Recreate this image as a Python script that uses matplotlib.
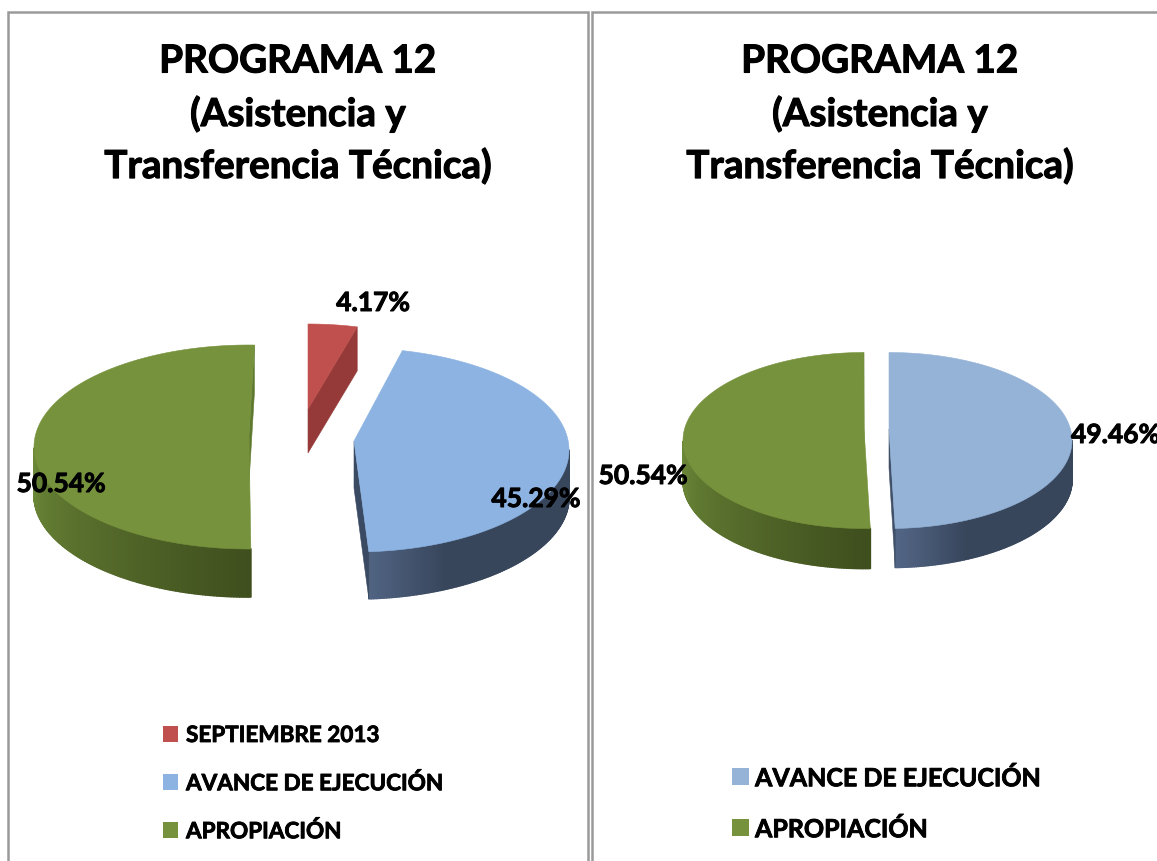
import numpy as np
import matplotlib
matplotlib.use("Agg")
import matplotlib.pyplot as plt
import matplotlib.patheffects as pe
from matplotlib.colors import to_rgb
from matplotlib.patches import Polygon, Rectangle
from matplotlib.collections import PolyCollection

W, H = 1157, 862
plt.rcParams['font.family'] = ['Lato', 'DejaVu Sans']

title_lines = ["PROGRAMA 12", "(Asistencia y", "Transferencia Técnica)"]
left_labels = ["SEPTIEMBRE 2013", "AVANCE DE EJECUCIÓN", "APROPIACIÓN"]
left_values = [4.17, 45.29, 50.54]
right_labels = ["AVANCE DE EJECUCIÓN", "APROPIACIÓN"]
right_values = [49.46, 50.54]

fig = plt.figure(figsize=(W / 100, H / 100), dpi=100)
ax = fig.add_axes([0, 0, 1, 1])
ax.set_xlim(0, W)
ax.set_ylim(H, 0)
ax.axis('off')


def lerp(a, b, t):
    a, b = np.array(to_rgb(a)), np.array(to_rgb(b))
    return a + (b - a) * t


def wedge3d(value, start, cx, cy, rx, ry, tip, depth, top, face, lit, dark, z=2):
    """value in percent; start in degrees clockwise from 12 o'clock."""
    span = value * 3.6
    ang = np.radians(np.linspace(start, start + span, 240))
    xs = cx + rx * np.sin(ang)
    ys = cy - ry * np.cos(ang)
    # curved front side, shaded along the arc
    front = np.cos(ang) < 0
    idx = np.where(front[:-1] & front[1:])[0]
    left_half = start > 90
    if len(idx):
        polys = [[(xs[i], ys[i]), (xs[i + 1], ys[i + 1]),
                  (xs[i + 1], ys[i + 1] + depth), (xs[i], ys[i] + depth)] for i in idx]
        cols = []
        for i in idx:
            deg = np.degrees(ang[i]) % 360
            if left_half:       # dark at the centre, lit at the far left
                cols.append(lerp(dark, lit, np.clip((deg - 180) / 90, 0, 1)))
            else:               # lit near the bottom centre, dark quickly
                cols.append(lerp(lit, dark, np.clip((180 - deg) / 25, 0, 1)))
        ax.add_collection(PolyCollection(polys, facecolors=cols, edgecolors=cols,
                                         linewidths=1.2, zorder=z))
    # flat cut face at the end of the wedge
    x_e, y_e = xs[-1], ys[-1]
    ax.add_patch(Polygon([tip, (x_e, y_e), (x_e, y_e + depth), (tip[0], tip[1] + depth)],
                         closed=True, fc=face, ec=face, lw=0.4, zorder=z))
    # top surface
    ax.add_patch(Polygon([tip] + list(zip(xs, ys)), closed=True, fc=top, ec=top, lw=0.4,
                         zorder=z + 1))


RED, RED_D = '#C0504D', '#953A38'
GREEN = '#76923C'
GREEN_LIT, GREEN_DARK = '#6C8838', '#3F4F1E'
BLUE_L, BLUE_R = '#8DB3E2', '#95B3D7'
BLUE_LIT, BLUE_DARK = '#55698A', '#38465C'

# left pie
wedge3d(left_values[2], 179.5, 249, 448, 215, 102, (249, 436), 48,
        GREEN, '#5F7A30', GREEN_LIT, GREEN_DARK)
wedge3d(left_values[1], 13, 354, 451, 215, 102, (354, 442), 47,
        BLUE_L, '#3A4A62', BLUE_LIT, BLUE_DARK)
wedge3d(left_values[0], 0, 308, 410, 190, 85, (308, 410), 44,
        RED, RED_D, RED_D, RED_D)

# right pie
wedge3d(right_values[1], 178, 864, 441.5, 181, 88, (864, 430), 40,
        GREEN, '#5F7A30', GREEN_LIT, GREEN_DARK)
wedge3d(right_values[0], 0, 889, 441.5, 183, 88, (889, 430), 39,
        BLUE_R, '#3F5068', BLUE_LIT, BLUE_DARK)

# frames
GRAY = '#9A9A9A'
for seg in ([(8, 862), (8, 13), (587.5, 13), (587.5, 862)],
            [(591.5, 862), (591.5, 13), (1157, 13)]):
    xx, yy = zip(*seg)
    ax.plot(xx, yy, color=GRAY, lw=1.8, solid_joinstyle='miter', zorder=1)


# bold text is thickened slightly to match the heavier face of the reference
def heavy(w):
    return [pe.withStroke(linewidth=w, foreground='black')]


# titles
for xc in (298, 880):
    for line, y in zip(title_lines, (62, 115, 167)):
        ax.text(xc, y, line, ha='center', va='center', fontsize=27.8, fontweight='bold',
                color='black', zorder=6, path_effects=heavy(0.8))

# data labels
LBL = dict(fontsize=19, fontweight='bold', color='black', va='center', zorder=6,
           path_effects=heavy(0.7))
ax.text(373, 304, f"{left_values[0]:.2f}%", ha='center', **LBL)
ax.text(536, 500, f"{left_values[1]:.2f}%", ha='center', **LBL)
ax.text(61, 485, f"{left_values[2]:.2f}%", ha='center', **LBL)
ax.text(1071, 436, f"{right_values[0]:.2f}%", ha='left', **LBL)
ax.text(643, 477, f"{right_values[1]:.2f}%", ha='center', **LBL)

# legends
for lab, col, y in zip(left_labels, (RED, BLUE_L, GREEN), (735, 783, 831)):
    ax.add_patch(Rectangle((163, y - 8), 15, 16, fc=col, ec='none', zorder=5))
    ax.text(186, y + 1.5, lab, ha='left', va='center', fontsize=16.2, fontweight='bold',
            color='black', zorder=6, path_effects=heavy(0.6))
for lab, col, y in zip(right_labels, (BLUE_R, GREEN), (778, 829)):
    ax.add_patch(Rectangle((732, y - 8.5), 17, 17, fc=col, ec='none', zorder=5))
    ax.text(755, y + 1.5, lab, ha='left', va='center', fontsize=18, fontweight='bold',
            color='black', zorder=6, path_effects=heavy(0.6))

fig.savefig('out.png', dpi=100, facecolor='white')
